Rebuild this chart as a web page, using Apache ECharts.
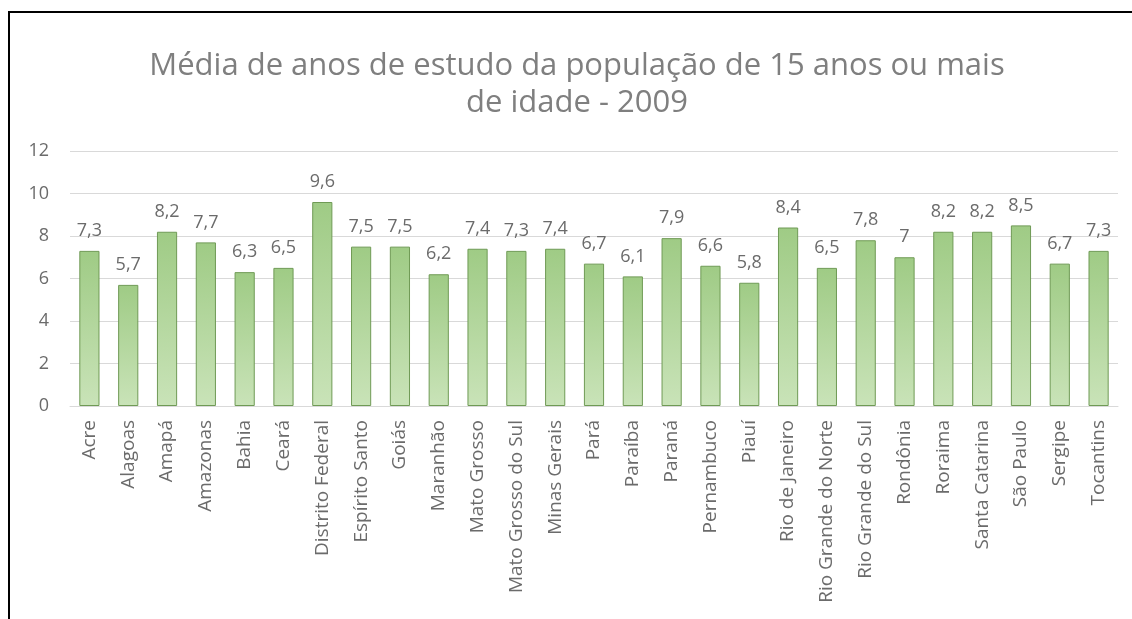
<!DOCTYPE html>
<html>
<head>
<meta charset="utf-8">
<script src="https://cdn.jsdelivr.net/npm/echarts@6/dist/echarts.min.js"></script>
<style>
html,body{margin:0;padding:0;background:#fff;}
#wrap{position:relative;width:1132px;height:619px;overflow:hidden;}
#chart{position:absolute;left:0;top:0;width:1132px;height:619px;}
#frame{position:absolute;left:8px;top:11px;width:1200px;height:700px;border-left:2px solid #000;border-top:2px solid #000;pointer-events:none;}
</style>
</head>
<body>
<div id="wrap"><div id="chart"></div><div id="frame"></div></div>
<script>
const titleText = 'Média de anos de estudo da população de 15 anos ou mais\nde idade - 2009';
const categories = ['Acre','Alagoas','Amapá','Amazonas','Bahia','Ceará','Distrito Federal','Espírito Santo','Goiás','Maranhão','Mato Grosso','Mato Grosso do Sul','Minas Gerais','Pará','Paraíba','Paraná','Pernambuco','Piauí','Rio de Janeiro','Rio Grande do Norte','Rio Grande do Sul','Rondônia','Roraima','Santa Catarina','São Paulo','Sergipe','Tocantins'];
const values = [7.3,5.7,8.2,7.7,6.3,6.5,9.6,7.5,7.5,6.2,7.4,7.3,7.4,6.7,6.1,7.9,6.6,5.8,8.4,6.5,7.8,7,8.2,8.2,8.5,6.7,7.3];
const yTicks = {min:0, max:12, interval:2};

const FONT = '"Open Sans", sans-serif';
const chart = echarts.init(document.getElementById('chart'), null, {renderer:'canvas'});
chart.setOption({
  backgroundColor:'#ffffff',
  animation:false,
  title:{
    text:titleText,
    left:572,
    top:43,
    textAlign:'center',
    textStyle:{fontFamily:FONT,fontSize:31,fontWeight:'normal',color:'#7f7f7f',lineHeight:37}
  },
  grid:{left:70,right:14,top:151,bottom:213,containLabel:false},
  xAxis:{
    type:'category',
    data:categories,
    axisLine:{show:true,lineStyle:{color:'#d9d9d9',width:1}},
    axisTick:{show:false},
    axisLabel:{rotate:90,interval:0,margin:14,fontFamily:FONT,fontSize:19,color:'#6b6b6b'}
  },
  yAxis:{
    type:'value',
    min:yTicks.min,max:yTicks.max,interval:yTicks.interval,
    axisLine:{show:false},
    axisTick:{show:false},
    splitLine:{lineStyle:{color:'#d9d9d9',width:1}},
    axisLabel:{margin:21,fontFamily:FONT,fontSize:18,color:'#6b6b6b'}
  },
  series:[{
    type:'bar',
    data:values,
    barWidth:'52%',
    itemStyle:{
      color:new echarts.graphic.LinearGradient(0,0,0,1,[
        {offset:0,color:'#9fcb85'},
        {offset:1,color:'#c9e3b8'}
      ]),
      borderColor:'#6f9a55',
      borderWidth:1
    },
    label:{
      show:true,position:'top',distance:11,
      fontFamily:FONT,fontSize:18,color:'#6b6b6b',
      formatter:p=>String(p.value).replace('.',',')
    }
  }]
});
</script>
</body>
</html>
